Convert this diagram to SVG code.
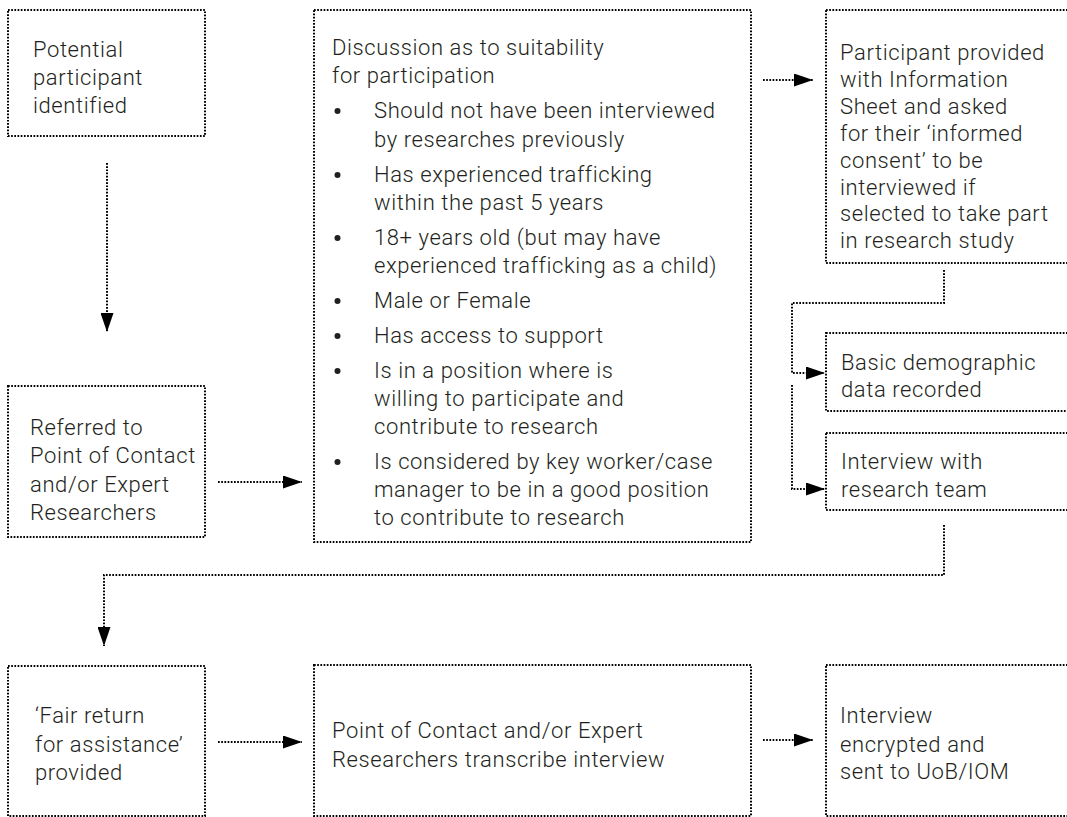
<svg xmlns="http://www.w3.org/2000/svg" width="1067" height="817" viewBox="0 0 1067 817">
<style>
.box{fill:#fff;stroke:#000;stroke-width:2;stroke-dasharray:1.7 1.5}
.con{fill:none;stroke:#000;stroke-width:2;stroke-dasharray:1.7 1.5}
text{font-family:Roboto,"Liberation Sans",sans-serif;font-weight:300;font-size:22px;letter-spacing:0.6px;fill:#231f20}
.dot{fill:#231f20}
</style>
<defs>
<marker id="ah" markerUnits="userSpaceOnUse" markerWidth="19" markerHeight="13" refX="19" refY="6.5" orient="auto">
<path d="M0,0 L19,6.5 L0,13 z" fill="#000"/>
</marker>
</defs>
<rect width="1067" height="817" fill="#fff"/>
<g id="connectors">
<path class="con" d="M107,163 V332" marker-end="url(#ah)"/>
<path class="con" d="M218,482 H302" marker-end="url(#ah)"/>
<path class="con" d="M763,80 H813" marker-end="url(#ah)"/>
<path class="con" d="M944,270 V303 H792 V373 H825" marker-end="url(#ah)"/>
<path class="con" d="M792,385 V489 H825" marker-end="url(#ah)"/>
<path class="con" d="M944,525 V575 H104 V646" marker-end="url(#ah)"/>
<path class="con" d="M218,742 H302" marker-end="url(#ah)"/>
<path class="con" d="M763,740 H813" marker-end="url(#ah)"/>
</g>
<g id="n1">
<rect class="box" x="8" y="10" width="197" height="126"/>
<text x="33" y="57">Potential</text>
<text x="33" y="85">participant</text>
<text x="33" y="113">identified</text>
</g>
<g id="n2">
<rect class="box" x="314" y="10" width="437" height="532"/>
<text x="332" y="55">Discussion as to suitability</text>
<text x="332" y="83">for participation</text>
<circle class="dot" cx="337.5" cy="111" r="3"/>
<text x="374" y="118">Should not have been interviewed</text>
<text x="374" y="147">by researches previously</text>
<circle class="dot" cx="337.5" cy="175" r="3"/>
<text x="374" y="182">Has experienced trafficking</text>
<text x="374" y="210">within the past 5 years</text>
<circle class="dot" cx="337.5" cy="238" r="3"/>
<text x="374" y="245">18+ years old (but may have</text>
<text x="374" y="273">experienced trafficking as a child)</text>
<circle class="dot" cx="337.5" cy="301" r="3"/>
<text x="374" y="308">Male or Female</text>
<circle class="dot" cx="337.5" cy="336" r="3"/>
<text x="374" y="343">Has access to support</text>
<circle class="dot" cx="337.5" cy="371" r="3"/>
<text x="374" y="378">Is in a position where is</text>
<text x="374" y="406">willing to participate and</text>
<text x="374" y="434">contribute to research</text>
<circle class="dot" cx="337.5" cy="462" r="3"/>
<text x="374" y="469">Is considered by key worker/case</text>
<text x="374" y="497">manager to be in a good position</text>
<text x="374" y="525">to contribute to research</text>
</g>
<g id="n3">
<rect class="box" x="826" y="10" width="260" height="253"/>
<text x="840" y="60">Participant provided</text>
<text x="840" y="87">with Information</text>
<text x="840" y="114">Sheet and asked</text>
<text x="840" y="141">for their ‘informed</text>
<text x="840" y="168">consent’ to be</text>
<text x="840" y="195">interviewed if</text>
<text x="840" y="221">selected to take part</text>
<text x="840" y="248">in research study</text>
</g>
<g id="n4">
<rect class="box" x="826" y="333" width="260" height="78"/>
<text x="841" y="370">Basic demographic</text>
<text x="841" y="397">data recorded</text>
</g>
<g id="n5">
<rect class="box" x="826" y="433" width="260" height="77"/>
<text x="841" y="469">Interview with</text>
<text x="841" y="497">research team</text>
</g>
<g id="n6">
<rect class="box" x="8" y="386" width="197" height="151"/>
<text x="30" y="435">Referred to</text>
<text x="30" y="463">Point of Contact</text>
<text x="30" y="492">and/or Expert</text>
<text x="30" y="520">Researchers</text>
</g>
<g id="n7">
<rect class="box" x="8" y="666" width="197" height="150"/>
<text x="35" y="723">‘Fair return</text>
<text x="35" y="752">for assistance’</text>
<text x="35" y="780">provided</text>
</g>
<g id="n8">
<rect class="box" x="314" y="665" width="437" height="151"/>
<text x="332" y="738">Point of Contact and/or Expert</text>
<text x="332" y="767">Researchers transcribe interview</text>
</g>
<g id="n9">
<rect class="box" x="826" y="665" width="260" height="151"/>
<text x="840" y="723">Interview</text>
<text x="840" y="752">encrypted and</text>
<text x="840" y="779">sent to UoB/IOM</text>
</g>
</svg>
